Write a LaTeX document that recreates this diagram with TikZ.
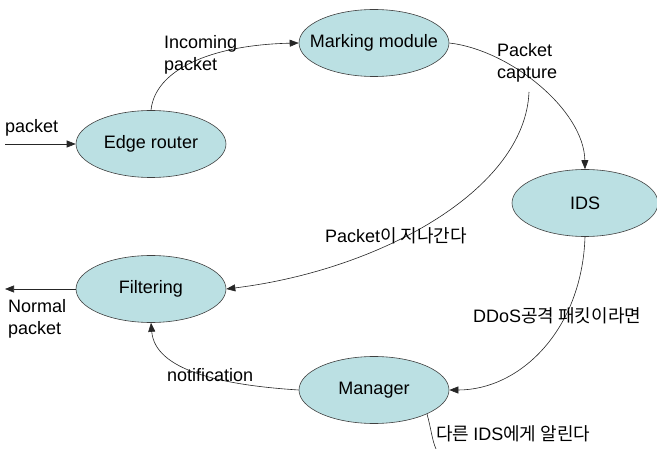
\documentclass[tikz,border=0pt]{standalone}
\usepackage{fontspec}
\setmainfont{Liberation Sans}
\newfontfamily\cjk{Noto Sans CJK KR}
\usetikzlibrary{shapes.geometric,arrows.meta}
\definecolor{nodefill}{RGB}{187,224,227}
\begin{document}
\begin{tikzpicture}[x=1pt,y=-1pt, font=\fontsize{18}{22}\selectfont,
  st/.style={ellipse, draw=black!75, line width=0.6pt, fill=nodefill,
    minimum width=150pt, minimum height=67pt, inner sep=0pt},
  arr/.style={draw=black!85, line width=0.6pt, -{Triangle[length=9pt,width=7pt]}},
  ln/.style={draw=black!85, line width=0.6pt},
  lbl/.style={anchor=west, align=left, inner sep=0pt}]
\useasboundingbox (0,0) rectangle (657,449);
% states
\node[st] (er) at (151,144) {\makebox[0pt]{Edge router}};
\node[st] (mm) at (374,43) {\makebox[0pt]{Marking module}};
\node[st, minimum width=146pt] (ids) at (585,203) {\makebox[0pt]{IDS}};
\node[st] (fl) at (151,289) {\makebox[0pt]{Filtering}};
\node[st] (mg) at (374,390) {\makebox[0pt]{Manager}};
% free ends
\coordinate (pin) at (5,144);
\coordinate (pout) at (5,289);
\coordinate (ps) at (529,92);
\coordinate (mb) at (427,414);
\coordinate (me) at (436,449);
% connectors
\draw[arr] (pin) -- (er.west);
\draw[arr] (er.north) .. controls (155,70) and (210,45) .. (mm.west);
\draw[arr] (mm.east) .. controls (510,50) and (584,110) .. (ids.north);
\draw[arr] (ps) .. controls (525,190) and (380,270) .. (fl.east);
\draw[arr] (ids.south) .. controls (582,330) and (520,390) .. (mg.east);
\draw[arr] (mg.west) .. controls (220,385) and (155,370) .. (fl.south);
\draw[arr] (fl.west) -- (pout);
\draw[ln] (mb) .. controls (431,428) and (432,440) .. (me);
% labels
\node[lbl] (l1) at (5,128) {packet};
\node[lbl] (l2) at (164,55) {Incoming\\packet};
\node[lbl] (l3) at (497,63) {Packet\\capture};
\node[lbl] (l4) at (325,236) {Packet{\cjk 이 지나간다}};
\node[lbl] (l5) at (473,316) {DDoS{\cjk 공격 패킷이라면}};
\node[lbl] (l6) at (167,375) {notification};
\node[lbl] (l7) at (8,319) {Normal\\packet};
\node[lbl] (l8) at (436,434) {{\cjk 다른 }IDS{\cjk 에게 알린다}};
\end{tikzpicture}
\end{document}
